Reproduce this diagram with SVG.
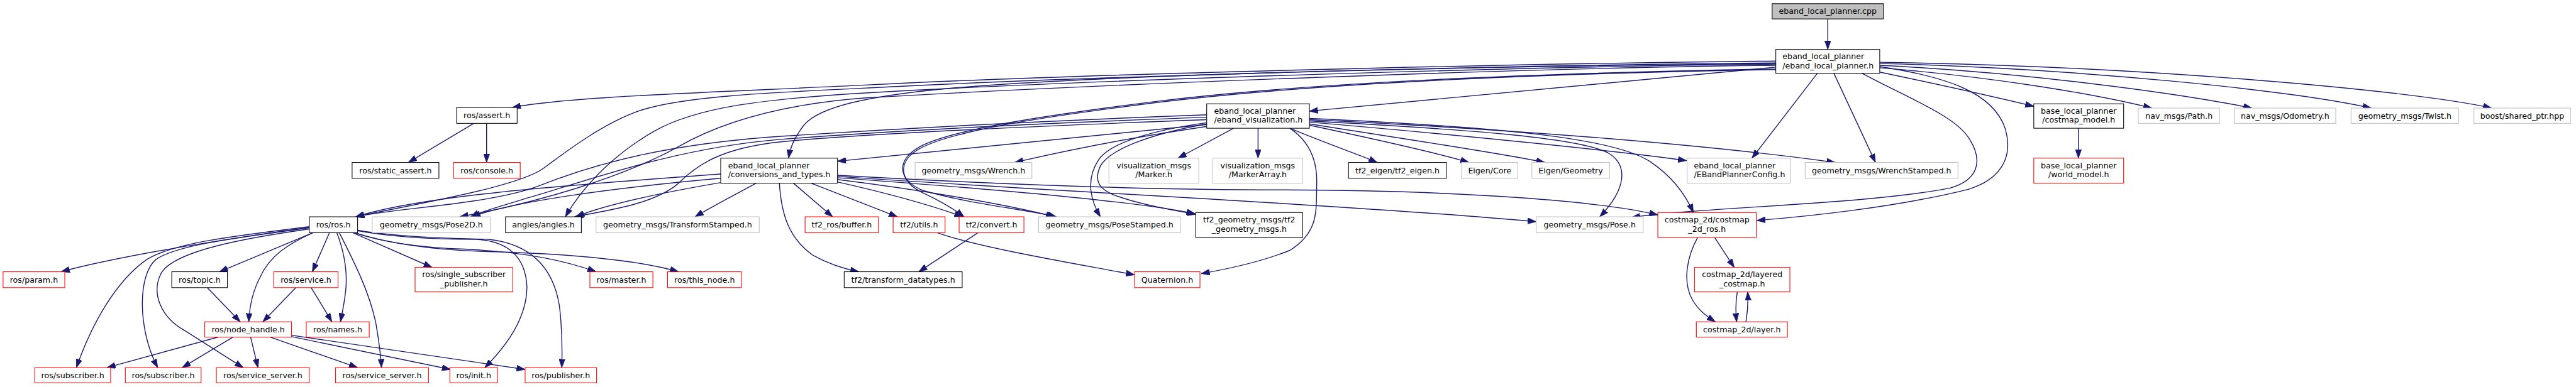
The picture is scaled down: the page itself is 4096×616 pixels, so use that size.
<svg xmlns="http://www.w3.org/2000/svg" width="4096" height="616" viewBox="0 0 4096 616">
<defs>
<style>
.e path{fill:none;stroke:#191970;stroke-width:1.45;marker-end:url(#arr)}
rect{fill:#fff;stroke:#000;stroke-width:1.1}
rect.r{stroke:#ff0000}
rect.g{stroke:#bfbfbf}
rect.root{fill:#bfbfbf}
text{font-family:"DejaVu Sans","Liberation Sans",sans-serif;font-size:13px;fill:#000}
text.c{text-anchor:middle}
</style>
<marker id="arr" markerWidth="14" markerHeight="10" refX="14" refY="5" orient="auto" markerUnits="userSpaceOnUse"><path d="M0,0 L14,5 L0,10 z" fill="#191970" stroke="#191970" stroke-width="0.8"/></marker>
</defs>
<rect x="0" y="0" width="4096" height="616" style="fill:#fff;stroke:none"/>
<g transform="scale(0.972)">
<g id="edges" class="e">
<path d="M2990,31 L2990,81"/>
<path d="M2905,100 C2500,104 1800,120 1420,139 C1150,152 930,158 838,176"/>
<path d="M2905,110 L2142,182"/>
<path d="M2905,104 C2400,109 1800,122 1550,145 C1420,157 1340,175 1315,205 C1300,225 1293,240 1290,259"/>
<path d="M2905,103 C2500,106 1800,124 1420,144 C1250,152 1120,158 1050,180 C990,200 930,245 890,275 C850,305 700,330 582,355"/>
<path d="M2905,107 C2500,111 1800,138 1420,160 C1280,170 1180,200 1110,240 C1020,290 880,332 752,355"/>
<path d="M2905,105 C2500,109 1800,130 1420,152 C1250,162 1140,175 1070,215 C1000,255 950,310 925,355"/>
<path d="M2905,113 C2500,120 2150,135 1900,165 C1700,190 1560,212 1505,240 C1465,262 1468,295 1510,312 C1590,335 1680,343 1728,355"/>
<path d="M2905,114 C2500,121 2150,137 1900,167 C1700,192 1560,214 1505,243 C1467,264 1470,297 1510,316 C1540,330 1560,342 1577,355"/>
<path d="M3075,109 C3180,125 3260,150 3280,210 C3295,260 3270,295 3220,310 C3100,340 2950,355 2874,361"/>
<path d="M3046,120 C3120,160 3200,190 3222,228 C3245,265 3235,295 3190,308 C3050,335 2800,338 2669,356"/>
<path d="M2973,120 L2866,259"/>
<path d="M3000,120 L3068,266"/>
<path d="M3075,118 C3180,140 3260,158 3327,174"/>
<path d="M3075,111 C3250,125 3420,152 3520,177"/>
<path d="M3075,107 C3300,118 3550,150 3684,177"/>
<path d="M3075,104 C3400,112 3750,148 3879,177"/>
<path d="M3075,102 C3500,108 3950,148 4076,177"/>
<path d="M1974,204 C1750,225 1550,248 1370,264"/>
<path d="M1974,207 C1850,225 1750,245 1660,266"/>
<path d="M2018,210 L1927,259"/>
<path d="M2058,210 L2058,259"/>
<path d="M2110,210 C2170,235 2220,252 2253,266"/>
<path d="M2142,205 C2250,228 2350,250 2403,266"/>
<path d="M2142,203 C2300,228 2450,250 2527,266"/>
<path d="M2142,200 C2400,222 2650,248 2759,263"/>
<path d="M2142,196 C2500,213 2800,238 3002,266"/>
<path d="M2142,198 C2400,212 2580,225 2630,250 C2665,270 2660,310 2617,355"/>
<path d="M2142,194 C2450,208 2640,225 2700,265 C2740,292 2760,325 2770,348"/>
<path d="M1974,188 C1700,198 1450,212 1280,223 C1100,235 980,265 880,305 C800,335 650,340 582,355"/>
<path d="M1974,192 C1700,202 1450,215 1280,228 C1100,242 950,300 860,325 C820,338 790,345 770,355"/>
<path d="M1974,196 C1700,206 1400,220 1280,232 C1180,242 1140,270 1110,300 C1070,335 990,345 940,355"/>
<path d="M1974,201 C1880,214 1815,235 1797,262 C1775,295 1785,330 1800,355"/>
<path d="M1974,203 C1880,220 1815,245 1800,272 C1788,298 1800,312 1830,322 C1870,336 1920,344 1956,351"/>
<path d="M2110,210 C2140,230 2155,260 2154,300 C2153,345 2158,380 2110,410 C2060,430 2000,442 1965,448"/>
<path d="M1179,285 C950,302 700,318 582,355"/>
<path d="M1179,292 C1000,308 840,330 772,355"/>
<path d="M1179,299 C1080,316 990,335 942,355"/>
<path d="M1237,300 C1200,320 1165,338 1137,355"/>
<path d="M1298,300 L1362,355"/>
<path d="M1327,300 L1468,355"/>
<path d="M1370,298 C1450,316 1520,335 1575,355"/>
<path d="M1370,294 C1500,310 1650,335 1725,355"/>
<path d="M1370,291 C1600,308 1850,328 1955,350"/>
<path d="M1370,289 C1700,312 2200,335 2513,363"/>
<path d="M1370,287 C1650,303 1900,311 2100,311 C2400,312 2620,330 2712,352"/>
<path d="M1275,300 C1278,350 1290,390 1330,418 C1355,432 1380,440 1405,445"/>
<path d="M775,202 L668,266"/>
<path d="M796,202 L796,266"/>
<path d="M3400,210 L3400,259"/>
<path d="M339,471 L393,527"/>
<path d="M484,471 L430,527"/>
<path d="M509,471 L543,527"/>
<path d="M357,552 L175,602"/>
<path d="M381,552 L298,602"/>
<path d="M410,552 L422,602"/>
<path d="M442,552 L585,602"/>
<path d="M476,551 L737,605"/>
<path d="M477,549 L859,605"/>
<path d="M2805,389 L2837,438"/>
<path d="M2777,389 C2760,420 2752,460 2768,490 C2778,508 2792,518 2806,527"/>
<path d="M2842,478 C2839,495 2839,510 2841,527"/>
<path d="M2856,527 C2859,510 2860,495 2859,478"/>
<path d="M1600,381 L1503,445"/>
<path d="M1533,381 C1600,405 1750,430 1856,450"/>
<path d="M506,372 C380,390 200,418 100,445"/>
<path d="M506,371 C400,385 290,395 240,425 C190,460 150,530 125,602"/>
<path d="M506,373 C400,388 290,400 255,425 C225,450 225,540 258,602"/>
<path d="M506,375 C400,390 290,410 265,445 C245,480 265,520 300,540 C340,565 370,585 398,602"/>
<path d="M512,381 L359,445"/>
<path d="M512,381 C470,400 440,420 425,455 C412,480 408,505 407,527"/>
<path d="M539,381 L511,445"/>
<path d="M551,381 C562,410 568,440 566,470 C564,495 560,510 557,527"/>
<path d="M555,381 C580,430 605,480 615,530 C620,560 623,580 624,602"/>
<path d="M577,381 L707,438"/>
<path d="M580,381 C620,395 680,405 760,408 C850,412 920,425 975,445"/>
<path d="M580,381 C640,400 720,410 800,412 C950,416 1050,428 1110,445"/>
<path d="M585,378 C650,390 720,392 780,392 C830,395 860,420 862,470 C862,520 830,565 793,602"/>
<path d="M585,377 C650,388 730,390 800,392 C870,400 905,440 915,500 C920,540 920,570 919,602"/>
</g>
<g id="n_cpp"><rect class="root" x="2899" y="6" width="182" height="25"/><text class="c" x="2990" y="23">eband_local_planner.cpp</text></g>
<g id="n_elp"><rect x="2905" y="81" width="170" height="39"/><text x="2916" y="97">eband_local_planner</text><text x="2916" y="112">/eband_local_planner.h</text></g>
<g id="n_assert"><rect x="747" y="176" width="99" height="26"/><text class="c" x="796.5" y="193.5">ros/assert.h</text></g>
<g id="n_vis"><rect x="1974" y="170" width="168" height="40"/><text x="1986" y="186">eband_local_planner</text><text x="1986" y="201">/eband_visualization.h</text></g>
<g id="n_cmodel"><rect x="3327" y="170" width="147" height="40"/><text class="c" x="3400.5" y="186">base_local_planner</text><text class="c" x="3400.5" y="201">/costmap_model.h</text></g>
<g id="n_path"><rect class="g" x="3498" y="177" width="133" height="25"/><text class="c" x="3564.5" y="194">nav_msgs/Path.h</text></g>
<g id="n_odom"><rect class="g" x="3655" y="177" width="166" height="25"/><text class="c" x="3738" y="194">nav_msgs/Odometry.h</text></g>
<g id="n_twist"><rect class="g" x="3846" y="177" width="176" height="25"/><text class="c" x="3934" y="194">geometry_msgs/Twist.h</text></g>
<g id="n_boost"><rect class="g" x="4047" y="177" width="158" height="25"/><text class="c" x="4126" y="194">boost/shared_ptr.hpp</text></g>
<g id="n_static"><rect x="576" y="266" width="142" height="26"/><text class="c" x="647" y="283.5">ros/static_assert.h</text></g>
<g id="n_console"><rect class="r" x="742" y="266" width="109" height="26"/><text class="c" x="796.5" y="283.5">ros/console.h</text></g>
<g id="n_conv"><rect x="1179" y="259" width="191" height="41"/><text x="1191" y="275.5">eband_local_planner</text><text x="1191" y="290.5">/conversions_and_types.h</text></g>
<g id="n_wrench"><rect class="g" x="1497" y="266" width="191" height="26"/><text class="c" x="1592.5" y="283.5">geometry_msgs/Wrench.h</text></g>
<g id="n_marker"><rect class="g" x="1814" y="259" width="147" height="41"/><text class="c" x="1887.5" y="275.5">visualization_msgs</text><text class="c" x="1887.5" y="290.5">/Marker.h</text></g>
<g id="n_markerarr"><rect class="g" x="1984" y="259" width="147" height="41"/><text class="c" x="2057.5" y="275.5">visualization_msgs</text><text class="c" x="2057.5" y="290.5">/MarkerArray.h</text></g>
<g id="n_tf2eigen"><rect x="2206" y="266" width="160" height="26"/><text class="c" x="2286" y="283.5">tf2_eigen/tf2_eigen.h</text></g>
<g id="n_core"><rect class="g" x="2391" y="266" width="92" height="26"/><text class="c" x="2437" y="283.5">Eigen/Core</text></g>
<g id="n_geom"><rect class="g" x="2506" y="266" width="127" height="26"/><text class="c" x="2569.5" y="283.5">Eigen/Geometry</text></g>
<g id="n_config"><rect class="g" x="2760" y="259" width="169" height="41"/><text x="2771" y="275.5">eband_local_planner</text><text x="2771" y="290.5">/EBandPlannerConfig.h</text></g>
<g id="n_wstamped"><rect class="g" x="2953" y="266" width="250" height="26"/><text class="c" x="3078" y="283.5">geometry_msgs/WrenchStamped.h</text></g>
<g id="n_world"><rect class="r" x="3327" y="259" width="147" height="41"/><text class="c" x="3400.5" y="275.5">base_local_planner</text><text class="c" x="3400.5" y="290.5">/world_model.h</text></g>
<g id="n_ros"><rect x="506" y="355" width="79" height="26"/><text class="c" x="545.5" y="372.5">ros/ros.h</text></g>
<g id="n_pose2d"><rect class="g" x="609" y="355" width="193" height="26"/><text class="c" x="705.5" y="372.5">geometry_msgs/Pose2D.h</text></g>
<g id="n_angles"><rect x="827" y="355" width="124" height="26"/><text class="c" x="889" y="372.5">angles/angles.h</text></g>
<g id="n_tstamped"><rect class="g" x="975" y="355" width="267" height="26"/><text class="c" x="1108.5" y="372.5">geometry_msgs/TransformStamped.h</text></g>
<g id="n_buffer"><rect class="r" x="1317" y="355" width="120" height="26"/><text class="c" x="1377" y="372.5">tf2_ros/buffer.h</text></g>
<g id="n_utils"><rect class="r" x="1461" y="355" width="85" height="26"/><text class="c" x="1503.5" y="372.5">tf2/utils.h</text></g>
<g id="n_convert"><rect class="r" x="1569" y="355" width="106" height="26"/><text class="c" x="1622" y="372.5">tf2/convert.h</text></g>
<g id="n_posestamped"><rect class="g" x="1699" y="355" width="232" height="26"/><text class="c" x="1815" y="372.5">geometry_msgs/PoseStamped.h</text></g>
<g id="n_tf2gm"><rect x="1956" y="348" width="175" height="41"/><text class="c" x="2043.5" y="364.5">tf2_geometry_msgs/tf2</text><text class="c" x="2043.5" y="379.5">_geometry_msgs.h</text></g>
<g id="n_pose"><rect class="g" x="2513" y="355" width="175" height="26"/><text class="c" x="2600.5" y="372.5">geometry_msgs/Pose.h</text></g>
<g id="n_cros"><rect class="r" x="2712" y="348" width="161" height="41"/><text class="c" x="2792.5" y="364.5">costmap_2d/costmap</text><text class="c" x="2792.5" y="379.5">_2d_ros.h</text></g>
<g id="n_param"><rect class="r" x="5" y="445" width="101" height="26"/><text class="c" x="55.5" y="462.5">ros/param.h</text></g>
<g id="n_topic"><rect x="281" y="445" width="91" height="26"/><text class="c" x="326.5" y="462.5">ros/topic.h</text></g>
<g id="n_service"><rect class="r" x="448" y="445" width="105" height="26"/><text class="c" x="500.5" y="462.5">ros/service.h</text></g>
<g id="n_ssp"><rect class="r" x="679" y="438" width="160" height="40"/><text class="c" x="759" y="454">ros/single_subscriber</text><text class="c" x="759" y="469">_publisher.h</text></g>
<g id="n_master"><rect class="r" x="965" y="445" width="103" height="26"/><text class="c" x="1016.5" y="462.5">ros/master.h</text></g>
<g id="n_thisnode"><rect class="r" x="1092" y="445" width="121" height="26"/><text class="c" x="1152.5" y="462.5">ros/this_node.h</text></g>
<g id="n_tdt"><rect x="1381" y="445" width="193" height="26"/><text class="c" x="1477.5" y="462.5">tf2/transform_datatypes.h</text></g>
<g id="n_quat"><rect class="r" x="1856" y="445" width="107" height="26"/><text class="c" x="1909.5" y="462.5">Quaternion.h</text></g>
<g id="n_layered"><rect class="r" x="2772" y="438" width="156" height="40"/><text class="c" x="2850" y="454">costmap_2d/layered</text><text class="c" x="2850" y="469">_costmap.h</text></g>
<g id="n_nh"><rect class="r" x="335" y="527" width="142" height="25"/><text class="c" x="406" y="544">ros/node_handle.h</text></g>
<g id="n_names"><rect class="r" x="501" y="527" width="103" height="25"/><text class="c" x="552.5" y="544">ros/names.h</text></g>
<g id="n_layer"><rect class="r" x="2775" y="527" width="149" height="25"/><text class="c" x="2849.5" y="544">costmap_2d/layer.h</text></g>
<g id="n_sub1"><rect class="r" x="57" y="602" width="124" height="25"/><text class="c" x="119" y="619">ros/subscriber.h</text></g>
<g id="n_sub2"><rect class="r" x="205" y="602" width="124" height="25"/><text class="c" x="267" y="619">ros/subscriber.h</text></g>
<g id="n_ss1"><rect class="r" x="354" y="602" width="152" height="25"/><text class="c" x="430" y="619">ros/service_server.h</text></g>
<g id="n_ss2"><rect class="r" x="549" y="602" width="152" height="25"/><text class="c" x="625" y="619">ros/service_server.h</text></g>
<g id="n_init"><rect class="r" x="736" y="602" width="78" height="25"/><text class="c" x="775" y="619">ros/init.h</text></g>
<g id="n_pub"><rect class="r" x="859" y="602" width="117" height="25"/><text class="c" x="917.5" y="619">ros/publisher.h</text></g>
</g>
</svg>
